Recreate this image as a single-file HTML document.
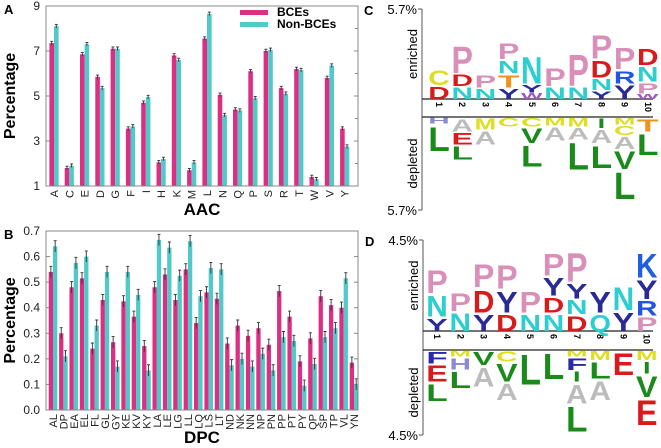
<!DOCTYPE html>
<html><head><meta charset="utf-8"><style>
html,body{margin:0;padding:0;background:#fff}
svg{display:block;font-family:"Liberation Sans",sans-serif}
</style></head><body>
<svg id="s" width="661" height="448" viewBox="0 0 661 448"></svg>
<script>
const aacCats=["A","C","E","D","G","F","I","H","K","M","L","N","Q","P","S","R","T","W","V","Y"];
const aacBCE=[7.35,1.8,6.85,5.85,7.1,3.55,4.7,2.05,6.8,1.7,7.55,5.05,4.4,6.1,7.0,5.35,6.2,1.4,5.8,3.55];
const aacNon=[8.1,1.9,7.3,5.35,7.1,3.65,4.95,2.2,6.6,2.05,8.65,4.15,4.35,4.9,7.05,5.1,6.15,1.3,6.35,2.75];
const aacTicks=[1,3,5,7,9];
const dpcCats=["AL","DP","EA","EL","FL","GL","GY","KE","KV","KY","LA","LE","LG","LL","LQ","LS","LT","ND","NK","NN","NP","PN","PP","PT","PY","QP","SP","TP","VL","YN"];
const dpcBCE=[.54,.30,.48,.515,.24,.43,.265,.425,.365,.25,.48,.53,.43,.55,.34,.46,.435,.26,.33,.29,.32,.255,.465,.365,.19,.28,.445,.41,.40,.185];
const dpcNon=[.64,.21,.575,.60,.33,.54,.17,.54,.45,.155,.665,.635,.525,.66,.445,.555,.55,.175,.20,.17,.22,.155,.285,.27,.095,.18,.285,.32,.515,.10];
const dpcTicks=[0,0.1,0.2,0.3,0.4,0.5,0.6,0.7];
// logo stacks: letter + height (percentage points*100), enriched bottom-up, depleted top-down
const cEnr=[["D",88,"C",108],["N",81,"D",83,"P",188],["N",73,"P",90],["Y",73,"T",90,"N",88,"P",113],["W",42,"Y",56,"N",188],["N",81,"P",125],["N",81,"P",223],["Y",56,"N",79,"D",119,"P",167],["Y",98,"R",90,"P",152],["W",35,"P",73,"N",104,"D",115]];
const cDep=[["H",42,"L",171],["A",90,"E",83,"L",94],["M",79,"A",94],["C",58],["C",58,"V",104,"L",146],["M",54,"A",94],["M",58,"A",83,"L",188],["I",69,"A",94,"L",156],["M",48,"C",63,"A",88,"V",125,"L",188],["T",90,"L",146]];
const dEnr=[["Y",71,"N",116,"P",129],["N",99,"P",99],["Y",92,"D",125,"P",129],["D",92,"Y",119,"P",132],["N",92,"P",119],["N",92,"D",83,"Y",99,"P",124],["D",83,"N",79,"Y",83,"P",162],["Q",92,"Y",119],["Y",104,"N",129],["P",76,"R",83,"Y",107,"K",137]];
const dDep=[["F",66,"E",91,"L",96],["M",33,"H",63,"L",91],["V",74,"A",107],["C",58,"V",99,"A",91],["L",170],["L",144],["M",33,"F",66,"I",58,"A",107,"L",140],["M",50,"L",91,"A",107],["E",124],["M",50,"I",66,"V",116,"E",140]];

const NS="http://www.w3.org/2000/svg",S=document.getElementById('s');
function mk(t,a,p,txt){const e=document.createElementNS(NS,t);for(const k in a)e.setAttribute(k,a[k]);if(txt!==undefined)e.textContent=txt;(p||S).appendChild(e);return e;}
const PINK="#dc2f84",TEAL="#52c9c9",GR="#888";

function barPanel(o){
  const g=mk('g',{});
  const {x0,x1,y0,y1,vmin,vmax}=o;
  const Y=v=>y1-(v-vmin)/(vmax-vmin)*(y1-y0);
  const X=i=>o.c0+i*o.step;
  o.ticks.forEach(t=>{mk('line',{x1:x0,x2:x0+4,y1:Y(t),y2:Y(t),stroke:GR},g);mk('line',{x1:x1,x2:x1-4,y1:Y(t),y2:Y(t),stroke:GR},g);
    const tl=mk('text',{x:x0-6,y:Y(t)+4,'text-anchor':'end','font-size':12,fill:'#222'},g,o.fmt(t));});
  if(o.minor)o.minor.forEach(t=>{mk('line',{x1:x1,x2:x1-3,y1:Y(t),y2:Y(t),stroke:GR},g);});
  o.cats.forEach((c,i)=>{
    const cx=X(i);
    [[o.a,PINK,-o.bw],[o.b,TEAL,0]].forEach(([arr,col,off])=>{
      const v=arr[i];const r=mk('rect',{x:cx+off,y:Y(v),width:o.bw,height:Y(vmin)-Y(v),fill:col},g);
      
      const ex=cx+off+o.bw/2,e=o.err;
      mk('path',{d:`M${ex} ${Y(v+e)}V${Y(v-e)}M${ex-1.5} ${Y(v+e)}H${ex+1.5}`,stroke:'#333','stroke-width':0.9,fill:'none'},g);
    });
    const tl=mk('text',{transform:`translate(${cx+4},${y1+4}) rotate(-90)`,'text-anchor':'end','font-size':11,fill:'#222'},g,c);
    
  });
  mk('rect',{x:x0,y:y0,width:x1-x0,height:y1-y0,fill:'none',stroke:GR,'stroke-width':1},g);
  const yt=mk('text',{transform:`translate(15,${(y0+y1)/2}) rotate(-90)`,'text-anchor':'middle','font-size':16,'font-weight':'bold'},g,'Percentage');
  
  const xt=mk('text',{x:(x0+x1)/2,y:o.xty,'text-anchor':'middle','font-size':17,'font-weight':'bold'},g,o.xt);
  
  const pl=mk('text',{x:4,y:o.ly,'font-size':13,'font-weight':'bold'},g,o.label);
  
}
barPanel({name:'panel-a-aac-chart',x0:46,x1:358,y0:6,y1:186,vmin:1,vmax:9,ticks:aacTicks,minor:[2,4,6,8],fmt:t=>t,
  cats:aacCats,a:aacBCE,b:aacNon,c0:54,step:15.3,bw:4.6,err:0.08,xt:'AAC',xty:215,label:'A',ly:14});
barPanel({name:'panel-b-dpc-chart',x0:46,x1:358,y0:231,y1:410,vmin:0,vmax:0.7,ticks:dpcTicks,fmt:t=>t.toFixed(1),
  cats:dpcCats,a:dpcBCE,b:dpcNon,c0:53,step:10.38,bw:4.3,err:0.022,xt:'DPC',xty:443,label:'B',ly:239});
// legend
const lg=mk('g',{});
mk('rect',{x:240,y:10,width:28,height:5,fill:PINK},lg);mk('text',{x:277,y:16,'font-size':12,'font-weight':'bold'},lg,'BCEs');
mk('rect',{x:240,y:22,width:28,height:5,fill:TEAL},lg);mk('text',{x:277,y:28,'font-size':12,'font-weight':'bold'},lg,'Non-BCEs');

const COL={P:"#d98fb8",D:"#d81a1a",N:"#2ccfd0",Y:"#2a2a96",C:"#dede22",T:"#f0921e",W:"#a554c4",R:"#2356e0",K:"#2060e0",H:"#8a8ad0",L:"#1a8a1a",E:"#d81a1a",A:"#bcbcbc",M:"#dede22",V:"#1a8a1a",I:"#1a8a1a",Q:"#2ccfd0",F:"#2a2aa8"};
function letter(g,ch,cx,top,h,w){
  const ww=ch==='I'?w*0.35:w, hh=h*0.9;
  const t=mk('text',{transform:`translate(${cx-ww/2},${top+h}) scale(${ww/70},${hh/72})`,x:0,y:0,'font-size':100,'font-weight':'bold',fill:COL[ch],textLength:70,lengthAdjust:'spacingAndGlyphs'},g,ch);
  
}
function logo(o){
  const g=mk('g',{});
  const s=o.pxPer;
  mk('line',{x1:o.ax,x2:o.ax,y1:o.top,y2:o.bot,stroke:'#555'},g);
  mk('line',{x1:o.ax-4,x2:o.ax,y1:o.top,y2:o.top,stroke:'#555'},g);mk('line',{x1:o.ax-4,x2:o.ax,y1:o.bot,y2:o.bot,stroke:'#555'},g);
  mk('line',{x1:o.ax,x2:o.xe,y1:o.eb,y2:o.eb,stroke:'#222','stroke-width':1.3},g);
  mk('line',{x1:o.ax,x2:o.xe,y1:o.db,y2:o.db,stroke:'#222','stroke-width':1.3},g);
  mk('text',{x:o.ax-5,y:o.top+5,'text-anchor':'end','font-size':13},g,o.lab);
  mk('text',{x:o.ax-5,y:o.bot+5,'text-anchor':'end','font-size':13},g,o.lab);
  mk('text',{transform:`translate(${o.ax-5},${(o.top+o.eb)/2}) rotate(-90)`,'text-anchor':'middle','font-size':13},g,'enriched');
  mk('text',{transform:`translate(${o.ax-5},${(o.db+o.bot)/2}) rotate(-90)`,'text-anchor':'middle','font-size':13},g,'depleted');
  const pl=mk('text',{x:o.ax-58,y:o.top+6,'font-size':13,'font-weight':'bold'},g,o.panel);
  
  for(let i=0;i<10;i++){
    const cx=o.c0+i*o.step;
    mk('text',{transform:`translate(${cx-3},${o.eb+3}) rotate(90)`,'font-size':9,'font-weight':'bold'},g,String(i+1));
    let y=o.eb;const e=o.enr[i];
    for(let k=0;k<e.length;k+=2){const h=e[k+1]/100*s;y-=h;letter(g,e[k],cx,y,h,21.5);}
    y=o.db;const d=o.dep[i];
    for(let k=0;k<d.length;k+=2){const h=d[k+1]/100*s;letter(g,d[k],cx,y,h,21.5);y+=h;}
  }
}
logo({name:'panel-c-logo',panel:'C',lab:'5.7%',ax:422,top:9,bot:210,eb:99,db:117,xe:653,c0:439,step:23.2,pxPer:16,enr:cEnr,dep:cDep});
logo({name:'panel-d-logo',panel:'D',lab:'4.5%',ax:423,top:240,bot:435,eb:331,db:350,xe:653,c0:437,step:23.3,pxPer:20.2,enr:dEnr,dep:dDep});
</script>
</body></html>
